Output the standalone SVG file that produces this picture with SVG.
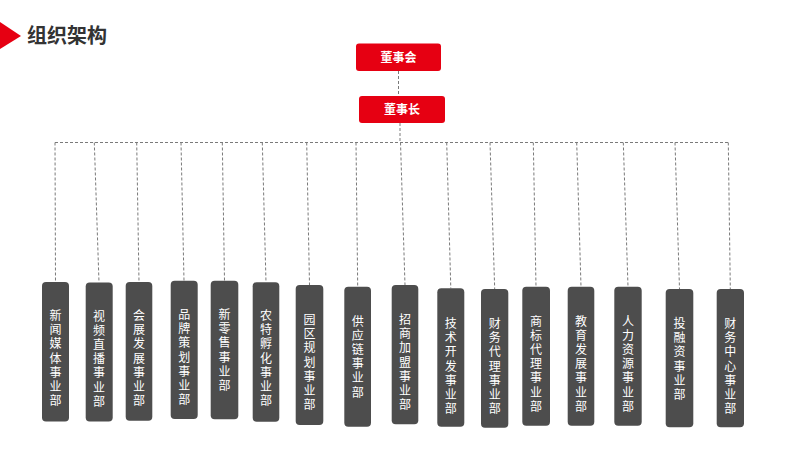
<svg xmlns="http://www.w3.org/2000/svg" width="800" height="450" viewBox="0 0 800 450">
<style>
.lead{fill:#e60012}
.dept{fill:#4d4d4d}
.lt{font-family:"Noto Sans CJK SC","Noto Sans",sans-serif;font-size:12px;font-weight:bold;fill:#fff;text-anchor:middle}
.dt{font-family:"Noto Sans CJK SC","Noto Sans",sans-serif;font-size:12px;fill:#fff;writing-mode:vertical-rl;letter-spacing:2.2px}
.c{fill:none;stroke:#7a7a7a;stroke-width:1;stroke-dasharray:3 2}
</style>
<rect width="800" height="450" fill="#fff"/>
<g id="title">
<polygon points="0,22 21,36 0,49" fill="#e60012"/>
<text x="27" y="43" font-family="Noto Sans CJK SC, sans-serif" font-size="20" font-weight="bold" fill="#333">组织架构</text>
</g>
<g id="connectors">
<line class="c" x1="398.5" y1="71" x2="398.5" y2="96"/>
<line class="c" x1="400" y1="123" x2="400" y2="142.5"/>
<line class="c" x1="55" y1="142.5" x2="728.3" y2="142.5"/>
<line class="c" x1="55" y1="142.5" x2="55.5" y2="282"/>
<line class="c" x1="94.3" y1="142.5" x2="99" y2="282.5"/>
<line class="c" x1="136.7" y1="142.5" x2="139" y2="282"/>
<line class="c" x1="181" y1="142.5" x2="184" y2="280.7"/>
<line class="c" x1="222.3" y1="142.5" x2="224.5" y2="280.7"/>
<line class="c" x1="262.3" y1="142.5" x2="266" y2="282.3"/>
<line class="c" x1="306.7" y1="142.5" x2="309.5" y2="285"/>
<line class="c" x1="356" y1="142.5" x2="357.7" y2="286.7"/>
<line class="c" x1="400.5" y1="142.5" x2="405" y2="285"/>
<line class="c" x1="446.7" y1="142.5" x2="450.8" y2="288.3"/>
<line class="c" x1="490" y1="142.5" x2="494.7" y2="289"/>
<line class="c" x1="533.3" y1="142.5" x2="536" y2="286.7"/>
<line class="c" x1="576.7" y1="142.5" x2="581" y2="286.7"/>
<line class="c" x1="623.3" y1="142.5" x2="628" y2="286.7"/>
<line class="c" x1="675" y1="142.5" x2="679.5" y2="289"/>
<line class="c" x1="728.3" y1="142.5" x2="730.3" y2="289"/>
</g>
<g id="n-board"><rect class="lead" x="356" y="43.5" width="85" height="27.5" rx="3"/><text class="lt" x="398.5" y="61.5">董事会</text></g>
<g id="n-chairman"><rect class="lead" x="359" y="96" width="86" height="27" rx="3"/><text class="lt" x="402" y="114">董事长</text></g>
<g id="d1"><rect class="dept" x="42" y="282" width="27" height="139.5" rx="4"/><text class="dt" x="55.5" y="309.5">新闻媒体事业部</text></g>
<g id="d2"><rect class="dept" x="85.7" y="282.5" width="27" height="139" rx="4"/><text class="dt" x="99" y="310">视频直播事业部</text></g>
<g id="d3"><rect class="dept" x="125.7" y="282" width="26.6" height="138.7" rx="4"/><text class="dt" x="139" y="309.5">会展发展事业部</text></g>
<g id="d4"><rect class="dept" x="170.7" y="280.7" width="27" height="138.3" rx="4"/><text class="dt" x="184.2" y="308.5">品牌策划事业部</text></g>
<g id="d5"><rect class="dept" x="210.7" y="280.7" width="27.6" height="138.6" rx="4"/><text class="dt" x="224.5" y="308.5">新零售事业部</text></g>
<g id="d6"><rect class="dept" x="252.7" y="282.3" width="26.6" height="139.4" rx="4"/><text class="dt" x="266" y="309.5">农特孵化事业部</text></g>
<g id="d7"><rect class="dept" x="295.7" y="285" width="27.6" height="140" rx="4"/><text class="dt" x="309.5" y="313.5">园区规划事业部</text></g>
<g id="d8"><rect class="dept" x="344.3" y="286.7" width="26.7" height="140" rx="4"/><text class="dt" x="357.7" y="315">供应链事业部</text></g>
<g id="d9"><rect class="dept" x="391.7" y="285" width="26.6" height="139.3" rx="4"/><text class="dt" x="405" y="313.5">招商加盟事业部</text></g>
<g id="d10"><rect class="dept" x="437.3" y="288.3" width="27" height="138.4" rx="4"/><text class="dt" x="450.8" y="317.5">技术开发事业部</text></g>
<g id="d11"><rect class="dept" x="481" y="289" width="27.3" height="138.7" rx="4"/><text class="dt" x="494.7" y="317.5">财务代理事业部</text></g>
<g id="d12"><rect class="dept" x="522.3" y="286.7" width="27.7" height="139" rx="4"/><text class="dt" x="536" y="315">商标代理事业部</text></g>
<g id="d13"><rect class="dept" x="567.7" y="286.7" width="26.6" height="139" rx="4"/><text class="dt" x="581" y="315">教育发展事业部</text></g>
<g id="d14"><rect class="dept" x="614.3" y="286.7" width="27.4" height="139" rx="4"/><text class="dt" x="628" y="315">人力资源事业部</text></g>
<g id="d15"><rect class="dept" x="665.7" y="289" width="27.6" height="138.3" rx="4"/><text class="dt" x="679.5" y="317.5">投融资事业部</text></g>
<g id="d16"><rect class="dept" x="716.7" y="289" width="27.3" height="138.3" rx="4"/><text class="dt" x="730.3" y="317.5">财务中心事业部</text></g>
</svg>
